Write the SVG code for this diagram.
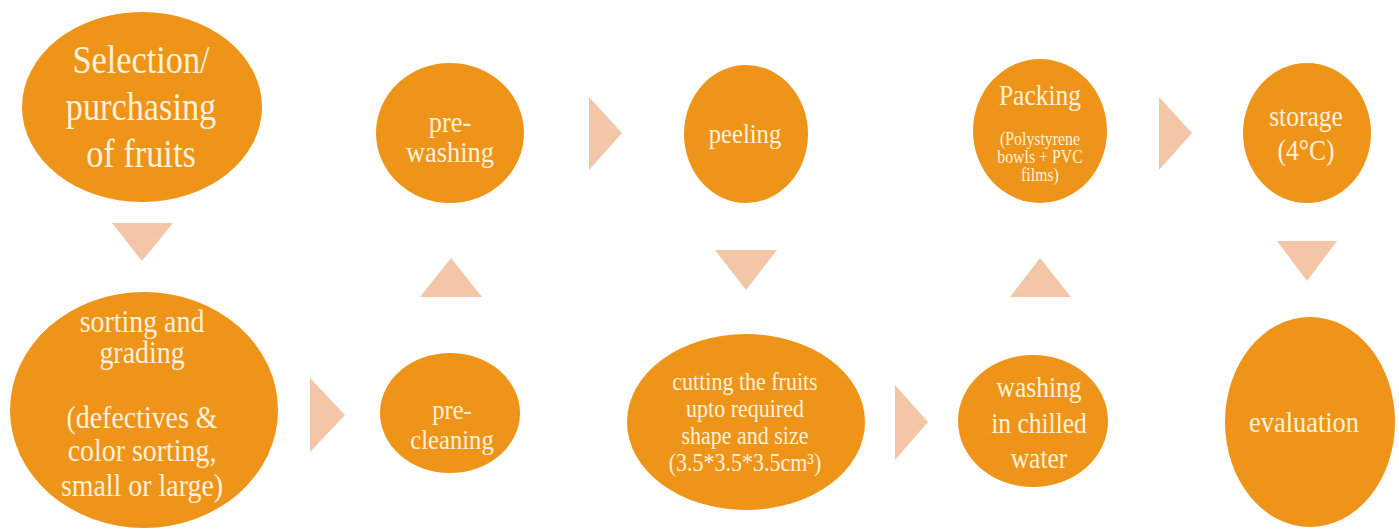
<svg xmlns="http://www.w3.org/2000/svg" width="1399" height="529" viewBox="0 0 1399 529">
<style>
.n{fill:#EE9419}
.a{fill:#F4C6A8}
.t{font-family:'Liberation Serif',serif;fill:#FDF2DC;text-anchor:middle}
</style>
<rect width="1399" height="529" fill="#ffffff"/>
<g id="connectors">
<polygon class="a" points="112,223 173,223 142,261"/>
<polygon class="a" points="310,378 345,415 310,452"/>
<polygon class="a" points="420,297 482,297 451,258"/>
<polygon class="a" points="589,97 622,133 589,170"/>
<polygon class="a" points="715,250 777,250 746,290"/>
<polygon class="a" points="895,385 928,422 895,460"/>
<polygon class="a" points="1010,297 1071,297 1040,258"/>
<polygon class="a" points="1159,97 1192,133 1159,170"/>
<polygon class="a" points="1277,241 1337,241 1307,281"/>
</g>
<g id="node-selection">
<ellipse class="n" cx="142" cy="107" rx="120" ry="95"/>
<text class="t" transform="translate(141 0) scale(.88 1)" font-size="39"><tspan x="0" y="73">Selection/</tspan><tspan x="0" y="120">purchasing</tspan><tspan x="0" y="167">of fruits</tspan></text>
</g>
<g id="node-sorting">
<ellipse class="n" cx="144" cy="410" rx="134" ry="118"/>
<text class="t" transform="translate(142 0) scale(.9 1)" font-size="31"><tspan x="0" y="332">sorting and</tspan><tspan x="0" y="363">grading</tspan><tspan x="0" y="428">(defectives &amp;</tspan><tspan x="0" y="461">color sorting,</tspan><tspan x="0" y="496">small or large)</tspan></text>
</g>
<g id="node-precleaning">
<ellipse class="n" cx="450" cy="413" rx="70" ry="60"/>
<text class="t" transform="translate(452 0) scale(.88 1)" font-size="28"><tspan x="0" y="419">pre-</tspan><tspan x="0" y="449">cleaning</tspan></text>
</g>
<g id="node-prewashing">
<ellipse class="n" cx="450" cy="133" rx="74" ry="70"/>
<text class="t" transform="translate(450 0) scale(.88 1)" font-size="30"><tspan x="0" y="132">pre-</tspan><tspan x="0" y="162">washing</tspan></text>
</g>
<g id="node-peeling">
<ellipse class="n" cx="746" cy="134" rx="62" ry="69"/>
<text class="t" transform="translate(745 0) scale(.88 1)" font-size="28"><tspan x="0" y="143">peeling</tspan></text>
</g>
<g id="node-cutting">
<ellipse class="n" cx="746" cy="422" rx="119" ry="88"/>
<text class="t" transform="translate(745 0) scale(.88 1)" font-size="25"><tspan x="0" y="390">cutting the fruits</tspan><tspan x="0" y="417">upto required</tspan><tspan x="0" y="444">shape and size</tspan><tspan x="0" y="471">(3.5*3.5*3.5cm³)</tspan></text>
</g>
<g id="node-washing">
<ellipse class="n" cx="1033" cy="421" rx="75" ry="66"/>
<text class="t" transform="translate(1039 0) scale(.88 1)" font-size="29"><tspan x="0" y="397">washing</tspan><tspan x="0" y="433">in chilled</tspan><tspan x="0" y="468">water</tspan></text>
</g>
<g id="node-packing">
<ellipse class="n" cx="1040" cy="131" rx="67" ry="72"/>
<text class="t" transform="translate(1040 0) scale(.88 1)"><tspan x="0" y="105" font-size="29">Packing</tspan><tspan x="0" y="145" font-size="18">(Polystyrene</tspan><tspan x="0" y="163" font-size="18">bowls + PVC</tspan><tspan x="0" y="181" font-size="18">films)</tspan></text>
</g>
<g id="node-storage">
<ellipse class="n" cx="1307" cy="133" rx="64" ry="70"/>
<text class="t" transform="translate(1306 0) scale(.88 1)" font-size="29"><tspan x="0" y="126">storage</tspan><tspan x="0" y="160">(4°C)</tspan></text>
</g>
<g id="node-evaluation">
<ellipse class="n" cx="1310" cy="422" rx="85" ry="105"/>
<text class="t" transform="translate(1304 0) scale(.88 1)" font-size="30"><tspan x="0" y="432">evaluation</tspan></text>
</g>
</svg>
